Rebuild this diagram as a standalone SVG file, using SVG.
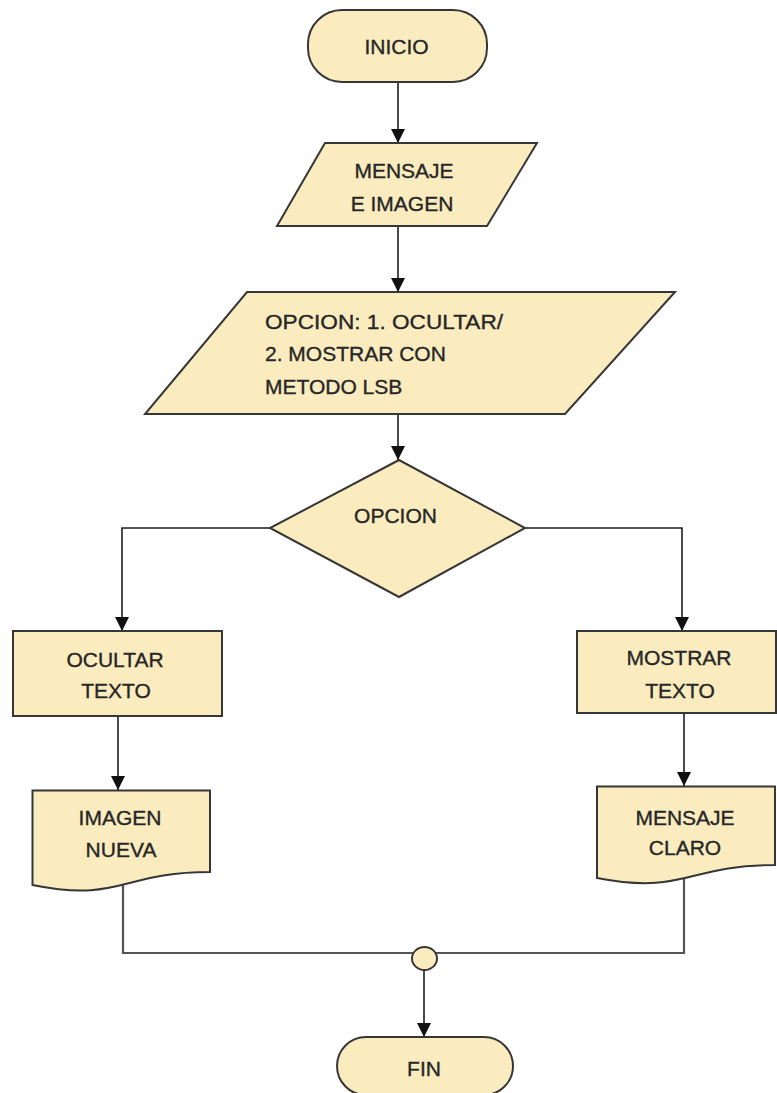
<svg xmlns="http://www.w3.org/2000/svg" width="777" height="1093" viewBox="0 0 777 1093">
<style>
.shape{fill:#FAECBF;stroke:#363636;stroke-width:2}
.lbl{font-family:"Liberation Sans",Arial,sans-serif;font-size:21px;fill:#262626;stroke:#262626;stroke-width:0.35;text-anchor:middle}
.lft{text-anchor:start}
.con{fill:none;stroke:#1e1e1e;stroke-width:1.6}
.join{fill:none;stroke:#555;stroke-width:2.2}
</style>
<defs>
<marker id="ah" markerUnits="userSpaceOnUse" markerWidth="14" markerHeight="15" refX="14" refY="7" orient="auto" viewBox="0 0 14 14">
<path d="M0,0 L14,7 L0,14 z" fill="#111"/>
</marker>
</defs>
<rect width="777" height="1093" fill="#fff"/>
<g id="connectors">
<line class="con" x1="398" y1="82" x2="398" y2="143" marker-end="url(#ah)"/>
<line class="con" x1="398" y1="226" x2="398" y2="292" marker-end="url(#ah)"/>
<line class="con" x1="398" y1="414" x2="398" y2="460" marker-end="url(#ah)"/>
<polyline class="con" points="270,528 122,528 122,631" marker-end="url(#ah)"/>
<polyline class="con" points="525,528 682,528 682,631" marker-end="url(#ah)"/>
<line class="con" x1="118" y1="716" x2="118" y2="790" marker-end="url(#ah)"/>
<line class="con" x1="684" y1="713" x2="684" y2="786" marker-end="url(#ah)"/>
<polyline class="join" points="123,880 123,953 684,953 684,870"/>
<line class="con" x1="424" y1="970" x2="424" y2="1037" marker-end="url(#ah)"/>
</g>
<g id="inicio">
<rect class="shape" x="308" y="10" width="179" height="72" rx="34" ry="34"/>
<text class="lbl" x="396.5" y="54">INICIO</text>
</g>
<g id="entrada-mensaje">
<polygon class="shape" points="325,143 537,143 487,226 277,226"/>
<text class="lbl" x="404" y="178">MENSAJE</text>
<text class="lbl" x="402" y="211">E IMAGEN</text>
</g>
<g id="entrada-opcion">
<polygon class="shape" points="247,292 675,292 565,414 145,414"/>
<text class="lbl lft" x="265" y="329" textLength="238" lengthAdjust="spacingAndGlyphs">OPCION: 1. OCULTAR/</text>
<text class="lbl lft" x="265" y="361">2. MOSTRAR CON</text>
<text class="lbl lft" x="265" y="394">METODO LSB</text>
</g>
<g id="decision-opcion">
<polygon class="shape" points="399,460 525,528 399,597 270,528"/>
<text class="lbl" x="395.5" y="523">OPCION</text>
</g>
<g id="ocultar-texto">
<rect class="shape" x="13" y="631" width="209" height="85"/>
<text class="lbl" x="115" y="667">OCULTAR</text>
<text class="lbl" x="116" y="698">TEXTO</text>
</g>
<g id="mostrar-texto">
<rect class="shape" x="577" y="631" width="199" height="82"/>
<text class="lbl" x="679" y="665">MOSTRAR</text>
<text class="lbl" x="680" y="698">TEXTO</text>
</g>
<g id="imagen-nueva">
<path class="shape" d="M32.5,790.5 H210 V872 C121,872 121,903 32.5,885 Z"/>
<text class="lbl" x="120" y="825">IMAGEN</text>
<text class="lbl" x="121" y="857">NUEVA</text>
</g>
<g id="mensaje-claro">
<path class="shape" d="M597,786.5 H775 V865 C686,865 686,895 597,878 Z"/>
<text class="lbl" x="685" y="825">MENSAJE</text>
<text class="lbl" x="685" y="855">CLARO</text>
</g>
<g id="union">
<ellipse class="shape" cx="424.5" cy="958.5" rx="12.5" ry="11.5" stroke-width="1.6"/>
</g>
<g id="fin">
<rect class="shape" x="337" y="1037" width="176" height="58" rx="29" ry="29"/>
<text class="lbl" x="424" y="1076">FIN</text>
</g>
</svg>
